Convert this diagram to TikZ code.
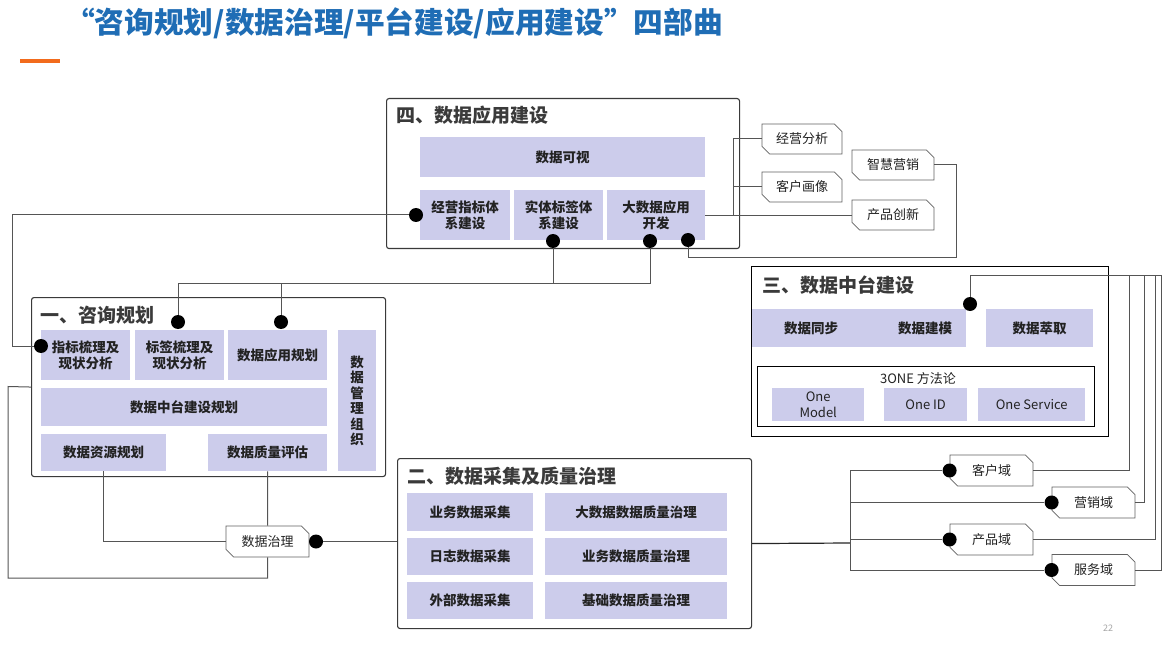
\documentclass[tikz,border=0pt]{standalone}
\usepackage{fontspec}
\setmainfont{Noto Sans CJK SC}
\usetikzlibrary{shapes.misc}
\definecolor{lav}{HTML}{CCCCEB}
\definecolor{ttl}{HTML}{1F6DB5}
\definecolor{org}{HTML}{F26B1D}
\definecolor{frm}{HTML}{3A3A3A}
\definecolor{cn}{HTML}{555555}
\definecolor{txt}{HTML}{222222}
\newcommand\bx[6]{\node[pbox,anchor=north west,minimum width={#4-#2},minimum height={#5-#3}] (#1) at (#2,#3) {#6};}
\newcommand\fr[6]{\node[#6,anchor=north west,minimum width={#4-#2},minimum height={#5-#3}] (#1) at (#2,#3) {};}
\tikzset{
  pbox/.style={fill=lav,draw=none,inner sep=0,align=center,text=txt,font=\bfseries\fontsize{13.5}{15.5}\selectfont},
  onebox/.style={pbox,font=\fontsize{13}{16}\selectfont},
  frame/.style={draw=frm,line width=1.1pt,rounded corners=2.5pt,inner sep=0},
  sqframe/.style={draw=black,line width=1pt,inner sep=0},
  ftitle/.style={anchor=west,inner sep=0,text=frm,font=\bfseries\fontsize{19}{21}\selectfont},
  tag/.style={chamfered rectangle,chamfered rectangle corners={north east,south west},
    chamfered rectangle xsep=4pt,draw=frm!80,line width=0.8pt,fill=white,inner sep=0,
    minimum width=80,minimum height=30,text=txt,font=\fontsize{13}{15}\selectfont},
  dot/.style={circle,fill=black,inner sep=0,minimum size=14},
  conn/.style={draw=cn,line width=1pt},
  plain/.style={inner sep=0,text=txt,font=\bfseries\fontsize{13.5}{15.5}\selectfont}
}
\begin{document}
\begin{tikzpicture}[x=1pt,y=-1pt]
\useasboundingbox[fill=white] (0,0) rectangle (1166,652);
% title
\node[anchor=west,inner sep=0,text=ttl,font=\bfseries\fontsize{28}{30}\selectfont] (title) at (65,23) {\scalebox{1.06}[1.05]{“咨询规划/数据治理/平台建设/应用建设”四部曲}};
\fill[org] (20,59.5) rectangle (60,63.5);
\node[inner sep=0,text=gray!70,font=\fontsize{9}{10}\selectfont] (pg) at (1108,628) {22};
% frames
\fr{b4}{386}{98}{739}{248}{frame}
\fr{b1}{31}{297}{385}{476}{frame}
\fr{b2}{397}{458}{751}{628}{frame}
\fr{b3}{751}{266}{1108}{436}{sqframe}
\fr{b3in}{757}{366}{1094}{426}{sqframe}
\node[ftitle] (t4) at (396,115) {四、数据应用建设};
\node[ftitle] (t1) at (40,315) {一、咨询规划};
\node[ftitle] (t2) at (407,476) {二、数据采集及质量治理};
\node[ftitle] (t3) at (762,285) {三、数据中台建设};
% box 4
\bx{sjks}{420}{137}{705}{177}{数据可视}
\bx{jyzb}{420}{190}{510}{240}{经营指标体\\系建设}
\bx{stbq}{514}{190}{603}{240}{实体标签体\\系建设}
\bx{dsjyy}{607}{190}{705}{240}{大数据应用\\开发}
% box 1
\bx{zbsl}{41}{330}{130}{380}{指标梳理及\\现状分析}
\bx{bqsl}{135}{330}{224}{380}{标签梳理及\\现状分析}
\bx{yygh}{228}{330}{327}{380}{数据应用规划}
\bx{glzz}{338}{330}{376}{471}{数\\据\\管\\理\\组\\织}
\bx{ztgh}{41}{388}{327}{426}{数据中台建设规划}
\bx{zygh}{41}{434}{166}{471}{数据资源规划}
\bx{zlpg}{208}{434}{327}{471}{数据质量评估}
% box 2
\bx{ywcj}{407}{493}{533}{531}{业务数据采集}
\bx{dsjzl}{545}{493}{727}{531}{大数据数据质量治理}
\bx{rzcj}{407}{538}{533}{575}{日志数据采集}
\bx{ywzl}{545}{538}{727}{575}{业务数据质量治理}
\bx{wbcj}{407}{582}{533}{619}{外部数据采集}
\bx{jczl}{545}{582}{727}{619}{基础数据质量治理}
% box 3
\bx{tbjm}{752}{309}{966}{347}{}
\node[plain] (sjtb) at (811,328) {数据同步};
\node[plain] (sjjm) at (925,328) {数据建模};
\bx{sjcq}{986}{309}{1093}{347}{数据萃取}
\node[inner sep=0,text=txt,font=\fontsize{13}{15}\selectfont] (ff) at (918,379) {3ONE 方法论};
\node[onebox,anchor=north west,minimum width=92,minimum height=33] (om) at (772,388) {One\\Model};
\node[onebox,anchor=north west,minimum width=83,minimum height=33] (oid) at (884,388) {One ID};
\node[onebox,anchor=north west,minimum width=107,minimum height=33] (osv) at (978,388) {One Service};
% tags
\node[tag] (jyfx) at (802,139) {经营分析};
\node[tag] (khhx) at (802,187) {客户画像};
\node[tag,minimum width=82] (zhyx) at (893,165) {智慧营销};
\node[tag,minimum width=82] (cpcx) at (893,215) {产品创新};
\node[tag,minimum width=83,minimum height=31] (sjzl) at (267.5,541.5) {数据治理};
\node[tag,minimum width=83,minimum height=31] (khy) at (991.5,470.5) {客户域};
\node[tag,minimum width=83,minimum height=31] (yxy) at (1093.5,502.5) {营销域};
\node[tag,minimum width=83,minimum height=31] (cpy) at (991.5,539.5) {产品域};
\node[tag,minimum width=83,minimum height=31] (fwy) at (1093.5,570) {服务域};
% dots
\node[dot] (djy) at (416,215) {};
\node[dot] (dst) at (553,241) {};
\node[dot] (dds1) at (650,241) {};
\node[dot] (dds2) at (688,240) {};
\node[dot] (dzb) at (41,346) {};
\node[dot] (dbq) at (178,322) {};
\node[dot] (dyy) at (281,322) {};
\node[dot] (djm) at (970,304) {};
\node[dot] (dzl) at (316,541.5) {};
\node[dot] (dkh) at (khy.west) {};
\node[dot] (dyx) at (yxy.west) {};
\node[dot] (dcp) at (cpy.west) {};
\node[dot] (dfw) at (fwy.west) {};
% connectors
\draw[conn] (dzb) -- (12,346) |- (djy);
\draw[conn] (dbq) |- (553,283) -- (dst);
\draw[conn] (dyy) |- (650,283) -- (dds1);
\draw[conn] (dsjyy.east) -- (dsjyy.east -| cpcx.west);
\draw[conn] (733,215) |- (jyfx.west);
\draw[conn] (733,215) |- (khhx.west);
\draw[conn] (zhyx.east) -| (956,257) -| (dds2);
\draw[conn] (zygh.south) |- (sjzl.west);
\draw[conn] (zlpg.south) -- (sjzl.north);
\draw[conn] (b1.west) -- (8,386.5) |- (267.5,578) -- (sjzl.south);
\draw[conn] (dzl) -- (dzl -| b2.west);
\draw[conn,draw=black!85,line width=1.2pt] (b2.east) -- (850,543);
\draw[conn] (850,543) |- (dkh);
\draw[conn] (850,543) |- (dyx);
\draw[conn] (850,543) |- (dcp);
\draw[conn] (850,543) |- (dfw);
\draw[conn] (djm) |- (1129,275) |- (khy.east);
\draw[conn] (djm) |- (1144,275) |- (yxy.east);
\draw[conn] (djm) |- (1155,275) |- (cpy.east);
\draw[conn] (djm) |- (1161,275) |- (fwy.east);
\end{tikzpicture}
\end{document}
